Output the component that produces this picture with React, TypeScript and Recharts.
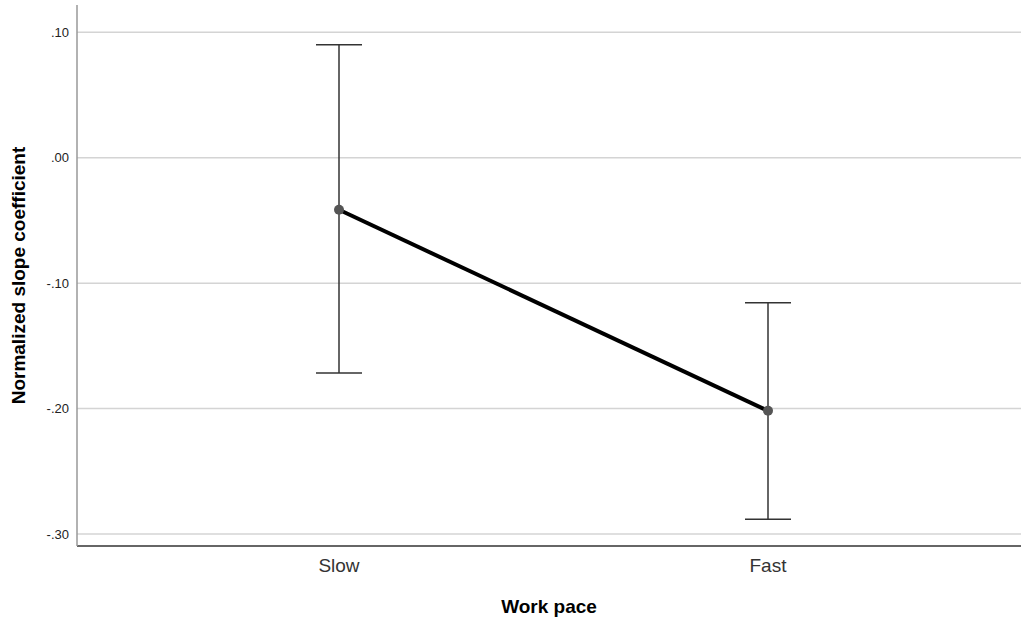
import {
  LineChart,
  Line,
  XAxis,
  YAxis,
  CartesianGrid,
  ErrorBar,
  Label,
} from "recharts";

// categories and estimates
const categories = ["Slow", "Fast"];
const means = [-0.0415, -0.2018];
const upperCI = [0.0902, -0.1157];
const lowerCI = [-0.1717, -0.2883];
const yTicks = [-0.3, -0.2, -0.1, 0, 0.1];

const data = categories.map((pace, i) => ({
  pace,
  slope: means[i],
  ci: [means[i] - lowerCI[i], upperCI[i] - means[i]],
}));

const FONT = "'Liberation Sans', Arial, sans-serif";

const fmtTick = (v: number) =>
  (v < 0 ? "-" : "") + Math.abs(v).toFixed(2).replace(/^0/, "");

const YTitle = (props: any) => {
  const vb = props.viewBox || {};
  const cx = 18;
  const cy = vb.height ? vb.y + vb.height / 2 : 275.5;
  return (
    <text
      x={cx}
      y={cy}
      transform={`rotate(-90, ${cx}, ${cy})`}
      textAnchor="middle"
      dominantBaseline="central"
      fontFamily={FONT}
      fontWeight="bold"
      fontSize={19}
      fill="#000"
    >
      Normalized slope coefficient
    </text>
  );
};

const XTitle = (props: any) => {
  const vb = props.viewBox || {};
  const cx = vb.width ? vb.x + vb.width / 2 : 549;
  return (
    <text
      x={cx}
      y={606}
      textAnchor="middle"
      dominantBaseline="central"
      fontFamily={FONT}
      fontWeight="bold"
      fontSize={19}
      fill="#000"
    >
      Work pace
    </text>
  );
};

const App = () => {
  return (
    <div style={{ position: "absolute", left: 0, top: 0, background: "#fff" }}>
      <LineChart
        width={1021}
        height={620}
        data={data}
        margin={{ top: 5, right: 0, left: 0, bottom: 0 }}
      >
        <CartesianGrid
          vertical={false}
          horizontalValues={yTicks}
          stroke="#d4d4d4"
          strokeWidth={1.5}
        />
        <XAxis
          dataKey="pace"
          height={74}
          padding={{ left: 262, right: 253 }}
          tickLine={false}
          tickSize={0}
          tickMargin={13}
          axisLine={{ stroke: "#333", strokeWidth: 1.5 }}
          tick={{ fontFamily: FONT, fontSize: 19, fill: "#333" }}
        >
          <Label content={XTitle} />
        </XAxis>
        <YAxis
          width={77}
          domain={[-0.3096, 0.1218]}
          ticks={yTicks}
          tickFormatter={fmtTick}
          tickLine={false}
          tickSize={0}
          tickMargin={8}
          axisLine={{ stroke: "#999", strokeWidth: 1.5 }}
          tick={{ fontFamily: FONT, fontSize: 13, fill: "#222" }}
        >
          <Label content={YTitle} />
        </YAxis>
        <Line
          dataKey="slope"
          stroke="#000"
          strokeWidth={4}
          dot={{ r: 5, fill: "#555", stroke: "none" }}
          activeDot={false}
          isAnimationActive={false}
        >
          <ErrorBar
            dataKey="ci"
            direction="y"
            width={23}
            stroke="#333"
            strokeWidth={1.5}
          />
        </Line>
      </LineChart>
    </div>
  );
};

export default App;
